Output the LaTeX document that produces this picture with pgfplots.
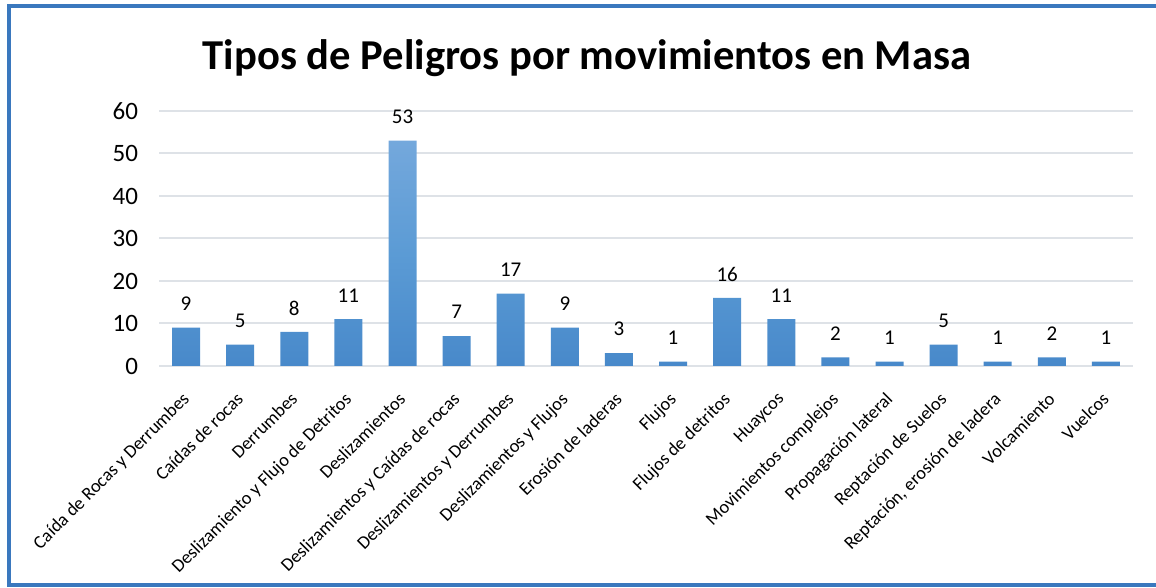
\documentclass[border=0pt]{standalone}
\usepackage{pgfplots}
\pgfplotsset{compat=1.18}
\usepackage{fontspec}
\setmainfont{Carlito}
\definecolor{barT}{RGB}{116,168,220}
\definecolor{barM}{RGB}{91,155,213}
\definecolor{barB}{RGB}{72,137,202}
\definecolor{gridc}{RGB}{222,226,231}
\definecolor{frame}{RGB}{58,120,190}

\begin{document}
\begin{tikzpicture}
\useasboundingbox (0pt,0pt) rectangle (578pt,294pt);
\draw[frame, line width=1.6pt] (4.5pt,1.5pt) rectangle (585pt,291pt);
\node[font=\fontsize{21.3}{25}\selectfont\bfseries] at (293.5pt,265pt) {Tipos de Peligros por movimientos en Masa};
\begin{axis}[
  at={(79.5pt,111pt)}, anchor=south west,
  scale only axis, width=487pt, height=127.5pt,
  ybar, bar width=14pt,
  xmin=-0.5, xmax=17.5, ymin=0, ymax=60,
  ytick={0,10,...,60},
  xtick={0,...,17},
  xticklabels={Caída de Rocas y Derrumbes, Caídas de rocas, Derrumbes,
    Deslizamiento y Flujo de Detritos, Deslizamientos,
    Deslizamientos y Caídas de rocas, Deslizamientos y Derrumbes,
    Deslizamientos y Flujos, Erosión de laderas, Flujos, Flujos de detritos,
    Huaycos, Movimientos complejos, Propagación lateral, Reptación de Suelos,
    {Reptación, erosión de ladera}, Volcamiento, Vuelcos},
  xticklabel style={font=\fontsize{9.2}{10}\selectfont, rotate=45, anchor=north east, inner sep=1pt, xshift=-9.5pt, yshift=-6pt},
  yticklabel style={font=\fontsize{12.5}{14}\selectfont, xshift=-7pt},
  /pgf/number format/assume math mode=true,
  major tick length=0pt,
  ymajorgrids, grid style={gridc, line width=1pt},
  axis x line*=bottom, axis y line*=left,
  x axis line style={gridc, line width=1pt, -},
  y axis line style={draw=none},
  nodes near coords,
  every node near coord/.append style={font=\fontsize{10.5}{12}\selectfont, anchor=center, yshift=12pt},
  clip=false,
]
\addplot[draw=none, top color=barT, bottom color=barB, middle color=barM] coordinates {
  (0,9) (1,5) (2,8) (3,11) (4,53) (5,7) (6,17) (7,9) (8,3) (9,1)
  (10,16) (11,11) (12,2) (13,1) (14,5) (15,1) (16,2) (17,1)};
\end{axis}
\end{tikzpicture}
\end{document}
